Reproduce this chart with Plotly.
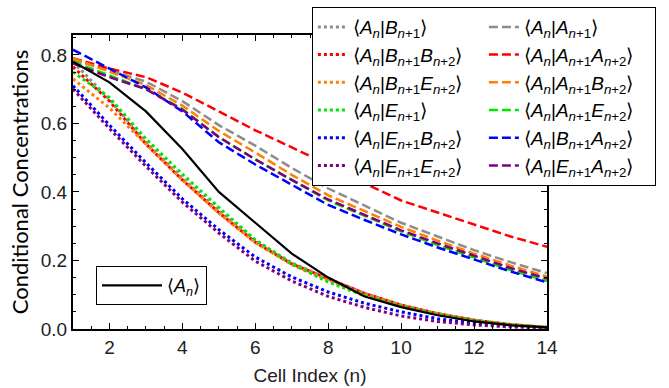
import plotly.graph_objects as go

n = list(range(1, 15))

# mean concentration
A_mean = [0.78, 0.72, 0.635, 0.525, 0.40, 0.31, 0.22, 0.15, 0.095, 0.064, 0.04, 0.022, 0.011, 0.005]

# dotted (conditioned on non-A neighbours)
A_B1 = [0.78, 0.67, 0.545, 0.44, 0.345, 0.258, 0.193, 0.147, 0.104, 0.07, 0.045, 0.026, 0.013, 0.005]
A_B1B2 = [0.765, 0.665, 0.54, 0.435, 0.34, 0.253, 0.19, 0.146, 0.104, 0.07, 0.045, 0.026, 0.013, 0.005]
A_B1E2 = [0.73, 0.645, 0.54, 0.435, 0.338, 0.252, 0.188, 0.142, 0.101, 0.068, 0.044, 0.025, 0.012, 0.005]
A_E1 = [0.75, 0.675, 0.555, 0.452, 0.355, 0.26, 0.19, 0.137, 0.097, 0.066, 0.042, 0.024, 0.012, 0.005]
A_E1B2 = [0.71, 0.595, 0.485, 0.38, 0.29, 0.21, 0.152, 0.108, 0.075, 0.05, 0.03, 0.017, 0.009, 0.004]
A_E1E2 = [0.70, 0.585, 0.475, 0.37, 0.28, 0.198, 0.14, 0.095, 0.063, 0.038, 0.022, 0.012, 0.006, 0.003]

# dashed (conditioned on A neighbours)
A_A1 = [0.785, 0.755, 0.722, 0.665, 0.595, 0.535, 0.47, 0.41, 0.36, 0.31, 0.27, 0.23, 0.195, 0.163]
A_A1A2 = [0.79, 0.76, 0.735, 0.69, 0.635, 0.58, 0.53, 0.48, 0.425, 0.375, 0.34, 0.305, 0.27, 0.24]
A_A1B2 = [0.79, 0.75, 0.712, 0.652, 0.578, 0.515, 0.45, 0.39, 0.345, 0.298, 0.258, 0.22, 0.185, 0.153]
A_A1E2 = [0.78, 0.74, 0.70, 0.642, 0.56, 0.495, 0.435, 0.375, 0.33, 0.285, 0.245, 0.208, 0.172, 0.14]
A_B1A2 = [0.815, 0.76, 0.705, 0.635, 0.545, 0.48, 0.42, 0.362, 0.318, 0.276, 0.238, 0.203, 0.168, 0.136]
A_E1A2 = [0.775, 0.735, 0.70, 0.64, 0.56, 0.495, 0.435, 0.378, 0.333, 0.288, 0.25, 0.213, 0.178, 0.147]

def lab(cond):
    return "⟨<i>A</i><sub><i>n</i></sub>|" + cond + "⟩"

def v(letter, k):
    return "<i>" + letter + "</i><sub><i>n</i>+" + str(k) + "</sub>"

names = [
    lab(v("B", 1)), lab(v("A", 1)),
    lab(v("B", 1) + v("B", 2)), lab(v("A", 1) + v("A", 2)),
    lab(v("B", 1) + v("E", 2)), lab(v("A", 1) + v("B", 2)),
    lab(v("E", 1)), lab(v("A", 1) + v("E", 2)),
    lab(v("E", 1) + v("B", 2)), lab(v("B", 1) + v("A", 2)),
    lab(v("E", 1) + v("E", 2)), lab(v("E", 1) + v("A", 2)),
]
series = [A_B1, A_A1, A_B1B2, A_A1A2, A_B1E2, A_A1B2, A_E1, A_A1E2, A_E1B2, A_B1A2, A_E1E2, A_E1A2]
colors = ["#8c8c8c", "#8c8c8c", "#ff0000", "#ff0000", "#ff8000", "#ff8000",
          "#00e600", "#00e600", "#0000ff", "#0000ff", "#800080", "#800080"]
dashes = ["3px,3px", "9px,4px"] * 6
widths = [3, 2.5] * 6

fig = go.Figure()
for name, ys, c, d, w in zip(names, series, colors, dashes, widths):
    fig.add_trace(go.Scatter(x=n, y=ys, mode="lines", name=name,
                             line=dict(color=c, width=w, dash=d), legend="legend"))

fig.add_trace(go.Scatter(x=n, y=A_mean, mode="lines", name="⟨<i>A</i><sub><i>n</i></sub>⟩",
                         line=dict(color="black", width=2.2), legend="legend2"))

axis_common = dict(showline=True, linecolor="black", linewidth=2, mirror="allticks",
                   ticks="inside", ticklen=6, tickwidth=1.2, tickcolor="black",
                   showgrid=False, zeroline=False,
                   tickfont=dict(family="Liberation Sans, Arial", size=19, color="#222"))

fig.update_layout(
    width=669, height=388,
    margin=dict(l=73, r=122, t=35, b=59, autoexpand=False),
    paper_bgcolor="white", plot_bgcolor="white",
    xaxis=dict(range=[1, 14], tickvals=[2, 4, 6, 8, 10, 12, 14],
               minor=dict(ticks="inside", dtick=0.5, tick0=1, ticklen=3, tickcolor="black"),
               title=dict(text="Cell Index (n)", font=dict(family="Liberation Sans, Arial", size=19, color="#222"),
                          standoff=12),
               **axis_common),
    yaxis=dict(range=[0, 0.858], tickvals=[0, 0.2, 0.4, 0.6, 0.8], tickformat=".1f",
               minor=dict(ticks="inside", dtick=0.05, tick0=0, ticklen=3, tickcolor="black"),
               title=dict(text="Conditional Concentrations", font=dict(family="Lato", size=22, color="black"),
                          standoff=6),
               **axis_common),
    legend=dict(x=0.504, y=1.095, xanchor="left", yanchor="top", orientation="h",
                entrywidth=126, entrywidthmode="pixels", traceorder="normal",
                bgcolor="white", bordercolor="black", borderwidth=1,
                font=dict(family="Liberation Sans, Arial", size=19, color="black")),
    legend2=dict(x=0.0485, y=0.214, xanchor="left", yanchor="top",
                 bgcolor="white", bordercolor="black", borderwidth=1, itemwidth=60,
                 font=dict(family="Liberation Sans, Arial", size=18, color="black")),
)

fig.write_html("out.html")
